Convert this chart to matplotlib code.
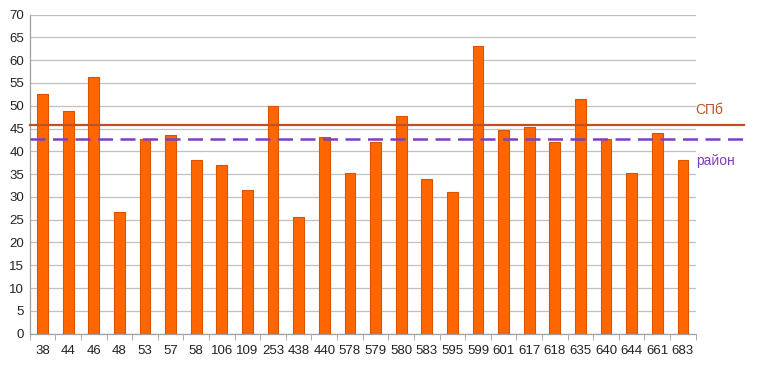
import matplotlib.pyplot as plt
import numpy as np
from matplotlib.ticker import FixedLocator

# | Data |
schools = ["38", "44", "46", "48", "53", "57", "58", "106", "109", "253", "438", "440", "578",
           "579", "580", "583", "595", "599", "601", "617", "618", "635", "640", "644", "661", "683"]
scores = [52.5, 48.8, 56.2, 26.6, 42.7, 43.6, 38.2, 37.0, 31.5, 49.9, 25.6, 43.2, 35.2,
          42.0, 47.8, 34.0, 31.0, 63.1, 44.7, 45.4, 42.1, 51.5, 42.6, 35.2, 44.1, 38.0]
spb_level = 45.75
district_level = 42.8

plt.rcParams['font.family'] = ['Liberation Sans', 'DejaVu Sans']

fig = plt.figure(figsize=(7.62, 3.65), dpi=100)
ax = fig.add_axes([0.039, 0.086, 0.874, 0.874])

x = np.arange(len(schools))
ax.bar(x, scores, width=0.42, color="#FF6600", edgecolor="#D85400", linewidth=0.8, zorder=3)

ax.axhline(spb_level, xmin=0, xmax=1.072, color="#C0501F", linewidth=1.6, clip_on=False, zorder=4)
ax.axhline(district_level, xmin=0, xmax=1.072, color="#7F3FBF", linewidth=1.8,
           dashes=(6, 3), clip_on=False, zorder=4)

ax.text(1.0, 49.0, "СПб", transform=ax.get_yaxis_transform(), color="#C0501F",
        fontsize=10, ha="left", va="center", clip_on=False)
ax.text(1.0, 37.8, "район", transform=ax.get_yaxis_transform(), color="#7F3FBF",
        fontsize=10, ha="left", va="center", clip_on=False)

ax.set_xlim(-0.5, len(schools) - 0.5)
ax.set_ylim(0, 70)
ax.set_yticks(np.arange(0, 71, 5))
ax.set_xticks(x)
ax.set_xticklabels(schools)
ax.xaxis.set_minor_locator(FixedLocator(np.arange(-0.5, len(schools), 1.0)))
ax.tick_params(axis="x", which="major", length=0, pad=8, labelsize=9.5, colors="#222222")
ax.tick_params(axis="x", which="minor", length=4, color="#A0A0A0")
ax.tick_params(axis="y", length=0, pad=4, labelsize=9.5, colors="#222222")

ax.grid(axis="y", color="#C0C0C0", linewidth=0.9, zorder=0)
for side in ("top", "right"):
    ax.spines[side].set_visible(False)
for side in ("left", "bottom"):
    ax.spines[side].set_color("#A0A0A0")
    ax.spines[side].set_linewidth(0.9)

fig.savefig("out.png", dpi=100)
